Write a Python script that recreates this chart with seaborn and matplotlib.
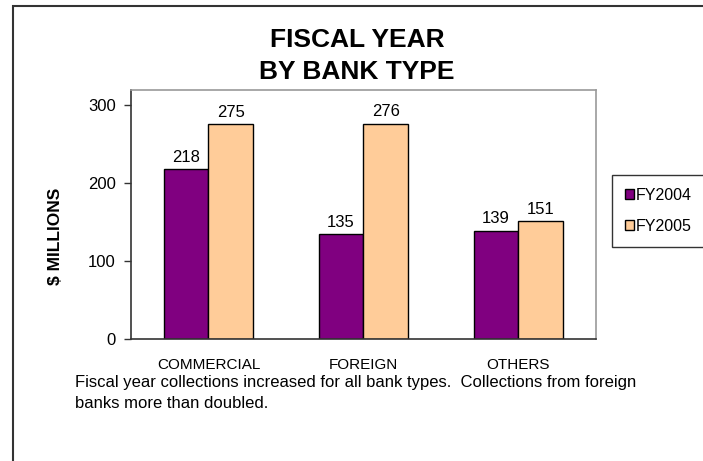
import pandas as pd
import seaborn as sns
import matplotlib.pyplot as plt
from matplotlib.patches import Rectangle

# Chart data
bank_types = ['COMMERCIAL', 'FOREIGN', 'OTHERS']
fy2004 = [218, 135, 139]
fy2005 = [275, 276, 151]
years = ['FY2004', 'FY2005']

df = pd.DataFrame({
    'bank': bank_types * 2,
    'year': [years[0]] * 3 + [years[1]] * 3,
    'value': fy2004 + fy2005,
})

sns.set_style("white")
plt.rcParams['font.family'] = ['Liberation Sans', 'DejaVu Sans']
plt.rcParams.update({'text.color': 'black', 'axes.labelcolor': 'black',
                     'xtick.color': 'black', 'ytick.color': 'black'})

fig = plt.figure(figsize=(7.03, 4.61), dpi=100)
ax = fig.add_axes([0.1863, 0.2646, 0.6615, 0.540])

sns.barplot(data=df, x='bank', y='value', hue='year', palette=['#800080', '#FFCC99'],
            width=0.58, edgecolor='black', linewidth=1, saturation=1, ax=ax)

for c in ax.containers:
    ax.bar_label(c, fmt='%d', padding=3, fontsize=12)

ax.set_ylim(0, 319)
ax.set_xlim(-0.5, 2.5)
ax.set_yticks([0, 100, 200, 300])
ax.tick_params(axis='y', left=True, length=5, width=1, color='#333333', labelsize=12, pad=6)
ax.tick_params(axis='x', bottom=False, labelsize=11, pad=10)
ax.set_xlabel('')
ax.set_ylabel('')

for s in ['left', 'bottom']:
    ax.spines[s].set_color('#333333')
    ax.spines[s].set_linewidth(1.2)
for s in ['top', 'right']:
    ax.spines[s].set_color('#999999')
    ax.spines[s].set_linewidth(1.2)

leg = ax.legend(loc='upper left', bbox_to_anchor=(612 / 703, 1 - 175 / 461),
                bbox_transform=fig.transFigure, frameon=True, fontsize=11.5,
                handlelength=0.55, handleheight=0.55, handletextpad=0.15, borderpad=0.8,
                labelspacing=1.0, fancybox=False, borderaxespad=0)
leg.get_frame().set_edgecolor('black')
leg.get_frame().set_linewidth(1)

fig.text(55 / 703, 0.488, '\\$ MILLIONS', rotation=90, ha='center', va='center',
         fontsize=12.5, fontweight='bold')

fig.text(0.508, 0.913, 'FISCAL YEAR', ha='center', va='center', fontsize=19, fontweight='bold')
fig.text(0.508, 0.843, 'BY BANK TYPE', ha='center', va='center', fontsize=19, fontweight='bold')

fig.text(0.107, 0.170, 'Fiscal year collections increased for all bank types.  Collections from foreign',
         fontsize=12, va='center')
fig.text(0.107, 0.124, 'banks more than doubled.', fontsize=12, va='center')

# outer frame
fig.patches.append(Rectangle((13 / 703, -0.1), 1.2, 1 - 6 / 461 + 0.1, transform=fig.transFigure,
                             fill=False, edgecolor='#333333', linewidth=1.5))

fig.savefig('out.png', dpi=100)
